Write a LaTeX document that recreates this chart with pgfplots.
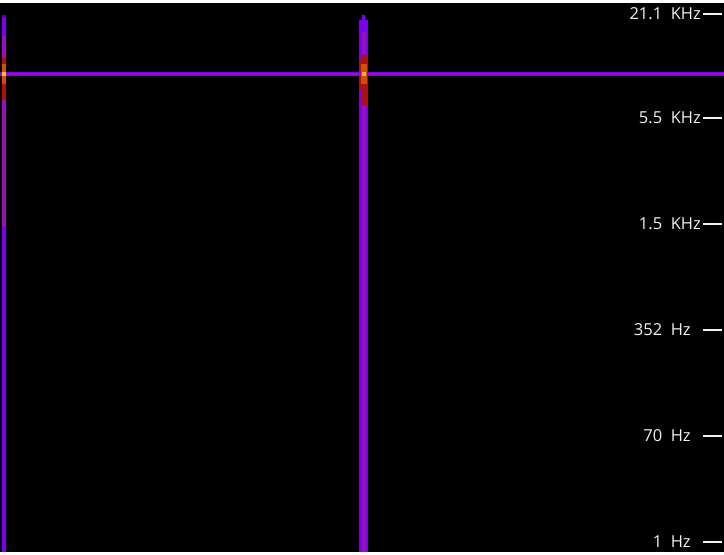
\documentclass[border=0pt]{standalone}
\usepackage{pgfplots}
\pgfplotsset{compat=1.18}
\usepackage{fontspec}
\setmainfont{Open Sans}
\definecolor{cpurple}{HTML}{7A00F5}
\definecolor{cdpurple}{HTML}{5A00B0}
\definecolor{cmag}{HTML}{9A10B8}
\definecolor{cred}{HTML}{B01010}
\definecolor{corange}{HTML}{D84A08}
\definecolor{cyellow}{HTML}{FFC020}
\definecolor{ctext}{HTML}{F2F2F2}
\begin{document}
\begin{tikzpicture}[x=1bp,y=1bp]
\begin{axis}[
  scale only axis, width=724bp, height=549bp,
  xmin=0, xmax=724, ymin=0, ymax=549,
  axis background/.style={fill=black},
  axis line style={draw=none},
  xtick=\empty,
  ytick={10,116,222,328,434,538},
  yticklabels={1\ \ Hz\hphantom{K},70\ \ Hz\hphantom{K},352\ \ Hz\hphantom{K},1.5\ \ KHz,5.5\ \ KHz,21.1\ \ KHz},
  ytick pos=right, yticklabel pos=right,
  tick align=inside,
  major tick length=19bp,
  every tick/.style={ctext, line width=1.4bp, xshift=-2bp},
  yticklabel style={anchor=east, inner sep=0pt, xshift=-23bp, text=ctext, font=\fontsize{16.5bp}{18bp}\selectfont},
  clip=true,
]
% left vertical line
\addplot[draw=cpurple, line width=4bp] coordinates {(3.5,0) (3.5,519)};
\addplot[draw=cdpurple, line width=4bp] coordinates {(3.5,519) (3.5,537)};
\addplot[draw=cmag, line width=4bp] coordinates {(3.5,325) (3.5,516)};
\addplot[draw=cpurple, line width=4bp] coordinates {(3.5,516) (3.5,534)};
\addplot[draw=cred, line width=4bp] coordinates {(3.5,452) (3.5,495)};
% middle vertical line
\addplot[draw=cpurple, line width=9bp] coordinates {(363.5,0) (363.5,532)};
\addplot[draw=cpurple, line width=3bp] coordinates {(363.5,532) (363.5,537)};
\addplot[draw=cmag, line width=4bp] coordinates {(364,0) (364,520)};
\addplot[draw=cred, line width=5bp] coordinates {(364,447) (364,497)};
\addplot[draw=cred, line width=8bp] coordinates {(363.5,462) (363.5,492)};
% horizontal line
\addplot[draw=cpurple, line width=4bp] coordinates {(0,478) (724,478)};
\addplot[draw=cmag, line width=1.5bp] coordinates {(0,478) (724,478)};
% hot spots
\addplot[draw=corange, line width=4bp] coordinates {(3.5,468) (3.5,488)};
\addplot[draw=corange, line width=6bp] coordinates {(363.5,468) (363.5,488)};
\addplot[draw=cyellow, line width=4bp] coordinates {(3.5,476) (3.5,480)};
\addplot[draw=cyellow, line width=4bp] coordinates {(363.5,476) (363.5,480)};
\end{axis}
\path (current axis.south west) ++(0,-3bp) (current axis.north east) ++(0,3bp);
\end{tikzpicture}
\end{document}
